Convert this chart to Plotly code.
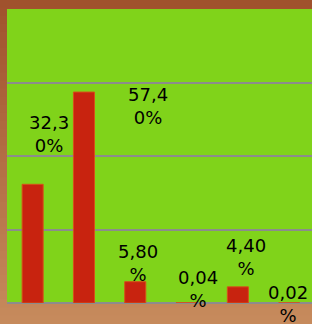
import plotly.graph_objects as go

categories = ["Cat 1", "Cat 2", "Cat 3", "Cat 4", "Cat 5", "Cat 6"]
values = [32.30, 57.40, 5.80, 0.04, 4.40, 0.02]
label_dx = [16, 64, 3, 11, 8, -1]
label_dy = [50, -14, 19, 14, 30, -1]


def fmt(v):
    s = f"{v:.2f}%".replace(".", ",")
    return s[:4] + "<br>" + s[4:]


W, H = 312, 324
ML, MR, MT, MB = 7, 0, 9, 21
plot_w = W - ML - MR
plot_h = H - MT - MB
spacing = 51.3
xmax = -0.5 + plot_w / spacing

fig = go.Figure()
fig.add_trace(go.Bar(
    x=list(range(len(categories))),
    y=values,
    width=0.41,
    marker=dict(color="rgb(200,35,15)", line=dict(color="rgb(214,80,25)", width=1)),
    hoverinfo="skip",
))

# background gradient strips (paper coords)
shapes = []
n = 40
y_bot = -MB / plot_h
y_top = 1 + MT / plot_h
c_top = (160, 82, 45)
c_bot = (198, 138, 92)
for i in range(n):
    t = i / (n - 1)
    c = tuple(int(round(c_top[k] + (c_bot[k] - c_top[k]) * t)) for k in range(3))
    y1 = y_top - (y_top - y_bot) * i / n
    y0 = y_top - (y_top - y_bot) * (i + 1) / n
    shapes.append(dict(type="rect", xref="paper", yref="paper", x0=-0.1, x1=1.1,
                       y0=y0 - 0.002, y1=y1 + 0.002, line=dict(width=0),
                       fillcolor=f"rgb{c}", layer="below"))
shapes.append(dict(type="rect", xref="paper", yref="paper", x0=0, x1=1.2, y0=0, y1=1,
                   line=dict(width=0), fillcolor="rgb(128,211,26)", layer="below"))

annotations = []
for i, v in enumerate(values):
    annotations.append(dict(
        x=i, y=v, xref="x", yref="y", text=fmt(v), showarrow=False,
        xanchor="center", yanchor="middle",
        xshift=label_dx[i], yshift=label_dy[i],
        font=dict(family="DejaVu Sans", size=18, color="black"),
    ))

fig.update_layout(
    width=W, height=H,
    margin=dict(l=ML, r=MR, t=MT, b=MB, pad=0),
    paper_bgcolor="rgb(176,100,60)",
    plot_bgcolor="rgba(0,0,0,0)",
    showlegend=False,
    shapes=shapes,
    annotations=annotations,
    xaxis=dict(range=[-0.5, xmax], showticklabels=False, showgrid=False,
               zeroline=False, showline=False, ticks=""),
    yaxis=dict(range=[0, 80], dtick=20, showticklabels=False, showgrid=True,
               gridcolor="rgb(140,140,140)", gridwidth=2,
               zeroline=True, zerolinecolor="rgb(140,140,140)", zerolinewidth=2,
               showline=False, ticks=""),
)

fig.write_html("out.html",
               config={"displayModeBar": False},
               post_script="document.body.style.margin='0';document.body.style.overflow='hidden';")
